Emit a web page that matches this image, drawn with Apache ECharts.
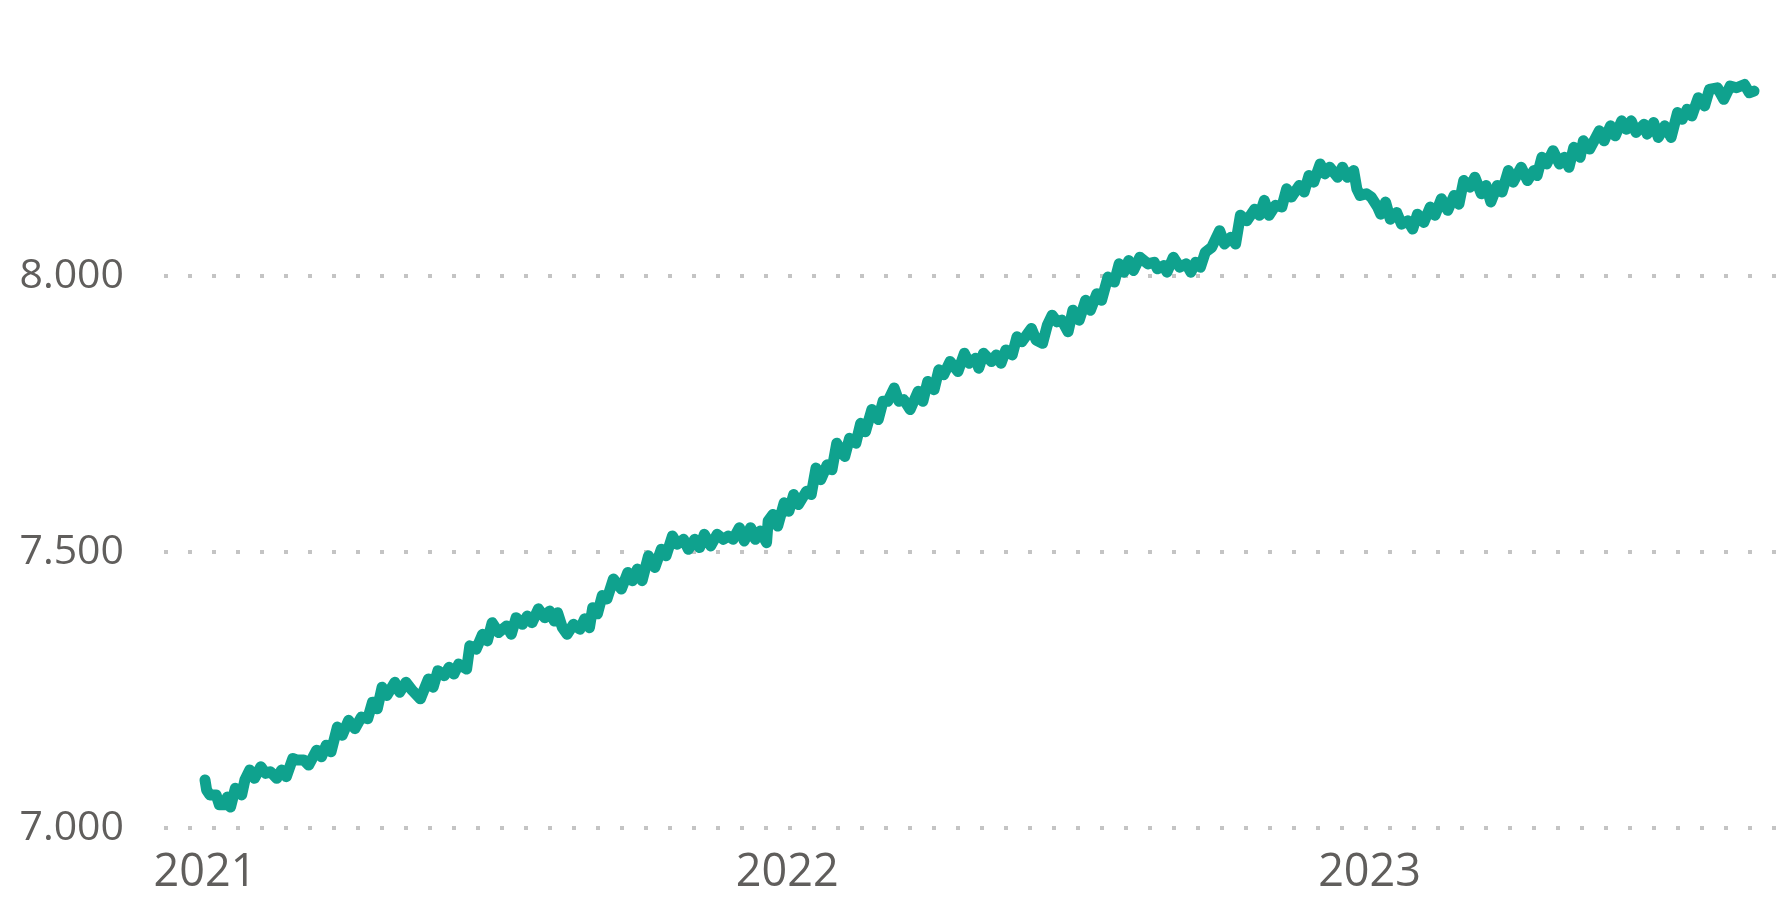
<!DOCTYPE html>
<html>
<head>
<meta charset="utf-8">
<script src="https://cdn.jsdelivr.net/npm/echarts@6/dist/echarts.min.js"></script>
<style>
  html, body { margin: 0; padding: 0; background: #fff; }
  #main { width: 1781px; height: 901px; }
</style>
</head>
<body>
<div id="main"></div>
<script>
// days after 2021-01-01
const days = [
  0, 1, 3, 7, 9, 12, 14, 16, 19, 23, 25, 28, 31, 35, 38, 41, 45, 48, 51, 55,
  58, 62, 65, 70, 73, 76, 79, 83, 86, 90, 94, 98, 102, 105, 108, 111, 114, 119, 122, 126,
  130, 135, 140, 143, 146, 150, 153, 156, 159, 164, 166, 170, 174, 177, 180, 184, 189, 192, 195, 199,
  202, 205, 209, 213, 216, 219, 221, 224, 227, 231, 235, 238, 241, 243, 246, 249, 252, 256, 261, 265,
  268, 271, 274, 278, 282, 286, 289, 293, 296, 300, 303, 307, 310, 313, 317, 321, 325, 328, 331, 335,
  338, 342, 345, 348, 352, 353, 356, 359, 363, 366, 369, 372, 377, 380, 383, 386, 390, 393, 396, 401,
  404, 408, 411, 414, 418, 422, 425, 428, 432, 435, 438, 442, 447, 450, 453, 457, 460, 463, 467, 472,
  476, 479, 483, 485, 488, 493, 496, 499, 502, 506, 509, 512, 518, 521, 525, 528, 531, 534, 537, 541,
  544, 548, 552, 555, 559, 562, 566, 570, 573, 576, 579, 582, 586, 591, 595, 597, 601, 603, 607, 611,
  615, 618, 621, 624, 627, 631, 636, 639, 643, 646, 649, 653, 658, 661, 664, 667, 671, 675, 678, 681,
  686, 689, 692, 695, 699, 702, 705, 710, 713, 716, 720, 722, 724, 728, 731, 735, 737, 740, 743, 747,
  750, 754, 757, 760, 764, 768, 771, 775, 779, 783, 786, 789, 793, 796, 800, 803, 806, 810, 813, 817,
  820, 825, 829, 833, 835, 838, 841, 845, 849, 852, 855, 858, 862, 864, 868, 874, 877, 881, 884, 888,
  891, 894, 897, 902, 904, 908, 911, 915, 919, 923, 926, 929, 932, 936, 940, 943, 948, 952, 956, 960,
  965, 968, 971
];
const values = [
  7087, 7069, 7060, 7060, 7042, 7042, 7056, 7038, 7072, 7060, 7087, 7105, 7090, 7111, 7099, 7102, 7090, 7105, 7093, 7126,
  7123, 7123, 7114, 7141, 7129, 7150, 7138, 7183, 7168, 7195, 7180, 7201, 7198, 7228, 7216, 7255, 7240, 7264, 7246, 7264,
  7249, 7234, 7270, 7255, 7285, 7276, 7291, 7279, 7297, 7288, 7330, 7324, 7351, 7339, 7372, 7354, 7366, 7351, 7381, 7369,
  7384, 7372, 7397, 7381, 7393, 7375, 7390, 7363, 7351, 7369, 7360, 7379, 7363, 7399, 7388, 7421, 7415, 7451, 7433, 7463,
  7448, 7469, 7448, 7493, 7472, 7505, 7493, 7529, 7514, 7523, 7505, 7523, 7508, 7532, 7511, 7532, 7523, 7529, 7523, 7544,
  7520, 7544, 7523, 7538, 7517, 7556, 7568, 7547, 7589, 7574, 7604, 7586, 7610, 7604, 7652, 7631, 7658, 7649, 7697, 7673,
  7706, 7697, 7733, 7718, 7758, 7740, 7773, 7773, 7797, 7773, 7776, 7758, 7791, 7773, 7809, 7794, 7830, 7821, 7845, 7827,
  7860, 7842, 7851, 7833, 7860, 7845, 7857, 7842, 7866, 7857, 7890, 7881, 7905, 7884, 7878, 7911, 7929, 7917, 7920, 7899,
  7938, 7920, 7956, 7938, 7968, 7956, 7998, 7989, 8022, 8007, 8028, 8010, 8034, 8022, 8025, 8013, 8019, 8007, 8034, 8016,
  8022, 8007, 8025, 8016, 8043, 8052, 8082, 8058, 8070, 8058, 8110, 8100, 8121, 8110, 8137, 8110, 8128, 8125, 8158, 8143,
  8164, 8152, 8182, 8170, 8203, 8185, 8197, 8179, 8197, 8179, 8191, 8158, 8146, 8149, 8143, 8125, 8112, 8134, 8103, 8115,
  8094, 8100, 8085, 8112, 8097, 8125, 8110, 8140, 8119, 8146, 8130, 8173, 8161, 8179, 8149, 8164, 8134, 8164, 8152, 8191,
  8170, 8197, 8173, 8191, 8182, 8215, 8203, 8227, 8203, 8215, 8197, 8233, 8215, 8245, 8230, 8263, 8245, 8272, 8254, 8281,
  8266, 8281, 8260, 8275, 8257, 8278, 8251, 8272, 8251, 8296, 8284, 8302, 8290, 8323, 8308, 8338, 8341, 8320, 8344, 8341,
  8347, 8332, 8335
];
const yTicks = [7000, 7500, 8000];

const DAY = 86400000;
const start = Date.UTC(2021, 0, 1);
const points = days.map((d, i) => [start + d * DAY, values[i]]);

const labelColor = '#605E5C';
const font = "'Segoe UI', 'Open Sans', sans-serif";

let options = {
  animation: false,
  grid: { left: 164, right: 3, top: -3, bottom: 73, containLabel: false },
  xAxis: {
    type: 'time',
    min: start - 25.7 * DAY,
    max: start + 986 * DAY,
    axisLine: { show: false },
    axisTick: { show: false },
    splitLine: { show: false },
    axisLabel: {
      color: labelColor,
      fontFamily: font,
      fontSize: 45,
      margin: 23,
      showMinLabel: false,
      showMaxLabel: false,
      formatter: {
        year: '{yyyy}', month: '', day: '', hour: '', minute: '', second: '', millisecond: '', none: ''
      }
    }
  },
  yAxis: {
    type: 'value',
    min: yTicks[0],
    max: 8500,
    interval: yTicks[1] - yTicks[0],
    axisLine: { show: false },
    axisTick: { show: false },
    splitLine: {
      showMaxLine: false,
      lineStyle: { color: '#c4c4c4', width: 4, type: [4, 20] }
    },
    axisLabel: {
      color: labelColor,
      fontFamily: font,
      fontSize: 41,
      margin: 40,
      showMaxLabel: false,
      formatter: (v) => v >= 8500 ? '' : String(v).replace(/\B(?=(\d{3})+(?!\d))/g, '.')
    }
  },
  series: [
    {
      type: 'line',
      data: points,
      showSymbol: false,
      symbol: 'none',
      lineStyle: { color: '#0FA28E', width: 11, cap: 'round', join: 'round' }
    }
  ]
};

let myChart = echarts.init(document.getElementById('main'));
myChart.setOption(options);
</script>
</body>
</html>
